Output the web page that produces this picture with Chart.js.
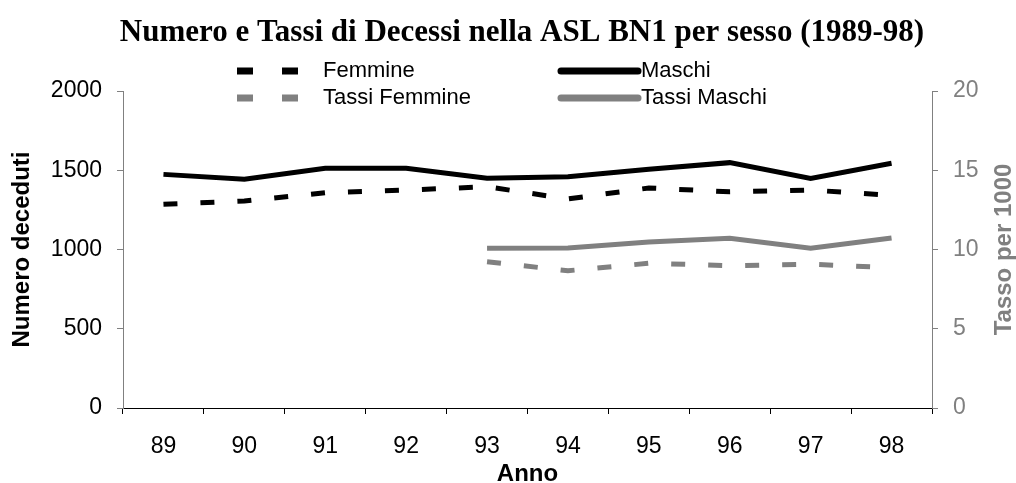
<!DOCTYPE html>
<html>
<head>
<meta charset="utf-8">
<script src="https://cdn.jsdelivr.net/npm/chart.js@4"></script>
<style>
  html, body { margin: 0; padding: 0; background: #fff; }
  #wrap { width: 1016px; height: 483px; position: relative; }
</style>
</head>
<body>
<div id="wrap"><canvas id="chart" width="1016" height="483"></canvas></div>
<script>
// Data
const anni = ['89', '90', '91', '92', '93', '94', '95', '96', '97', '98'];
const femmine = [1285, 1306, 1358, 1375, 1396, 1319, 1388, 1364, 1375, 1342];
const maschi = [1474, 1443, 1512, 1512, 1449, 1459, 1506, 1548, 1449, 1544];
const tassiFemmine = [null, null, null, null, 9.23, 8.66, 9.13, 8.98, 9.07, 8.85];
const tassiMaschi = [null, null, null, null, 10.08, 10.1, 10.47, 10.71, 10.08, 10.73];

const titolo = 'Numero e Tassi di Decessi nella ASL BN1 per sesso (1989-98)';
const GREY = '#808080';
const SANS = '"Liberation Sans", Arial, sans-serif';

// Title, legend and right axis title are drawn by hand to match the original layout
const extrasPlugin = {
    id: 'extras',
    afterDraw(chart) {
        const ctx = chart.ctx;
        ctx.save();

        // Title
        ctx.fillStyle = '#000';
        ctx.font = 'bold 31px "Liberation Serif", "Times New Roman", serif';
        ctx.textAlign = 'center';
        ctx.textBaseline = 'alphabetic';
        ctx.fillText(titolo, 522, 41);

        // Legend
        ctx.font = '22px ' + SANS;
        ctx.textAlign = 'left';
        ctx.textBaseline = 'middle';
        const rows = [71, 98];
        const items = [
            { ds: 0, col: 0, row: 0 },
            { ds: 1, col: 1, row: 0 },
            { ds: 2, col: 0, row: 1 },
            { ds: 3, col: 1, row: 1 }
        ];
        items.forEach(it => {
            const ds = chart.data.datasets[it.ds];
            const y = rows[it.row];
            ctx.fillStyle = ds.borderColor;
            ctx.strokeStyle = ds.borderColor;
            if (it.col === 0) {
                ctx.fillRect(237, y - 3.5, 16, 7);
                ctx.fillRect(282, y - 3.5, 16, 7);
                ctx.fillStyle = '#000';
                ctx.fillText(ds.label, 323, y);
            } else {
                ctx.lineWidth = 7;
                ctx.lineCap = 'round';
                ctx.beginPath();
                ctx.moveTo(561, y);
                ctx.lineTo(638, y);
                ctx.stroke();
                ctx.fillStyle = '#000';
                ctx.fillText(ds.label, 641, y);
            }
        });

        // Right axis title, reading bottom to top
        const area = chart.chartArea;
        ctx.translate(1004, (area.top + area.bottom) / 2);
        ctx.rotate(-Math.PI / 2);
        ctx.textAlign = 'center';
        ctx.fillStyle = GREY;
        ctx.font = 'bold 24px ' + SANS;
        ctx.fillText('Tasso per 1000', 0, 0);
        ctx.restore();
    }
};

new Chart(document.getElementById('chart'), {
    type: 'line',
    data: {
        labels: anni,
        datasets: [
            {
                label: 'Femmine',
                data: femmine,
                yAxisID: 'y',
                borderColor: '#000',
                borderWidth: 5,
                borderDash: [14, 23],
                pointRadius: 0,
                tension: 0
            },
            {
                label: 'Maschi',
                data: maschi,
                yAxisID: 'y',
                borderColor: '#000',
                borderWidth: 5,
                pointRadius: 0,
                tension: 0
            },
            {
                label: 'Tassi Femmine',
                data: tassiFemmine,
                yAxisID: 'y1',
                borderColor: GREY,
                borderWidth: 5,
                borderDash: [14, 23],
                pointRadius: 0,
                tension: 0
            },
            {
                label: 'Tassi Maschi',
                data: tassiMaschi,
                yAxisID: 'y1',
                borderColor: GREY,
                borderWidth: 5,
                pointRadius: 0,
                tension: 0
            }
        ]
    },
    options: {
        responsive: false,
        animation: false,
        layout: { padding: { top: 91, left: 0, right: 0, bottom: 0 } },
        plugins: {
            legend: { display: false },
            title: { display: false },
            tooltip: { enabled: false }
        },
        scales: {
            x: {
                offset: true,
                afterFit: s => { s.height = 75; },
                grid: {
                    offset: true,
                    drawOnChartArea: false,
                    color: '#000',
                    tickLength: 6
                },
                border: { color: '#000', width: 1 },
                ticks: {
                    color: '#000',
                    padding: 19,
                    font: { family: SANS, size: 23 }
                },
                title: {
                    display: true,
                    text: 'Anno',
                    color: '#000',
                    font: { family: SANS, size: 24, weight: 'bold', lineHeight: 0.75 },
                    padding: 0
                }
            },
            y: {
                position: 'left',
                min: 0,
                max: 2000,
                afterFit: s => { s.width = 123; },
                grid: {
                    drawOnChartArea: false,
                    color: GREY,
                    tickLength: 6
                },
                border: { color: GREY, width: 1 },
                ticks: {
                    stepSize: 500,
                    color: '#000',
                    padding: 15,
                    font: { family: SANS, size: 23 },
                    callback: v => String(v)
                },
                title: {
                    display: true,
                    text: 'Numero deceduti',
                    color: '#000',
                    font: { family: SANS, size: 24, weight: 'bold', lineHeight: 1 },
                    padding: { top: 10, bottom: 0 }
                }
            },
            y1: {
                position: 'right',
                min: 0,
                max: 20,
                afterFit: s => { s.width = 84; },
                grid: {
                    drawOnChartArea: false,
                    color: GREY,
                    tickLength: 6
                },
                border: { color: GREY, width: 1 },
                ticks: {
                    stepSize: 5,
                    color: GREY,
                    padding: 15,
                    font: { family: SANS, size: 23 },
                    callback: v => String(v)
                }
            }
        }
    },
    plugins: [extrasPlugin]
});
</script>
</body>
</html>
